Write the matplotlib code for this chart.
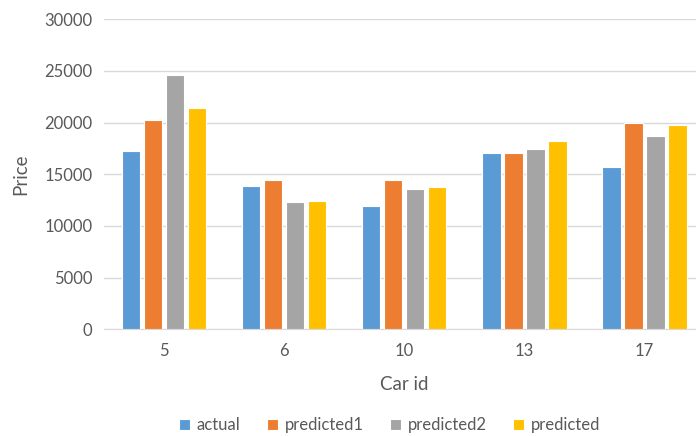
import numpy as np
import matplotlib.pyplot as plt

car_ids = ["5", "6", "10", "13", "17"]
actual = [17250, 13870, 11900, 17030, 15680]
predicted1 = [20260, 14420, 14420, 17030, 20000]
predicted2 = [24550, 12290, 13610, 17420, 18710]
predicted = [21450, 12450, 13740, 18200, 19750]

series = [
    ("actual", actual, "#5B9BD5"),
    ("predicted1", predicted1, "#ED7D31"),
    ("predicted2", predicted2, "#A5A5A5"),
    ("predicted", predicted, "#FFC000"),
]

plt.rcParams["font.family"] = ["Lato", "DejaVu Sans"]
text_color = "#595959"

fig = plt.figure(figsize=(6.96, 4.36), dpi=100)
ax = fig.add_axes([0.149, 0.245, 0.8635, 0.711])

x = np.arange(len(car_ids))
pitch = 0.183
for i, (name, vals, color) in enumerate(series):
    ax.bar(x + (i - 1.5) * pitch, vals, width=0.152, color=color,
           edgecolor="white", linewidth=0.8, label=name, zorder=3)

ax.set_xlim(-0.5, 4.5)
ax.set_ylim(0, 30000)
ax.set_yticks(range(0, 30001, 5000))
ax.set_xticks(x)
ax.set_xticklabels(car_ids)
ax.grid(axis="y", color="#d9d9d9", linewidth=1, zorder=0)
for side in ["top", "right", "left"]:
    ax.spines[side].set_visible(False)
ax.spines["bottom"].set_color("#d9d9d9")
ax.tick_params(length=0, labelsize=12, colors=text_color, pad=8)
ax.tick_params(axis="x", pad=10)

ax.set_xlabel("Car id", fontsize=13.5, color=text_color, labelpad=12)
ax.set_ylabel("Price", fontsize=13.5, color=text_color, labelpad=11)

fig.legend(loc="center", bbox_to_anchor=(0.56, 0.025), ncol=4, frameon=False,
           fontsize=12, handlelength=0.65, handleheight=0.65, handletextpad=0.4,
           columnspacing=1.6, labelcolor=text_color)

fig.savefig("out.png", dpi=100)
